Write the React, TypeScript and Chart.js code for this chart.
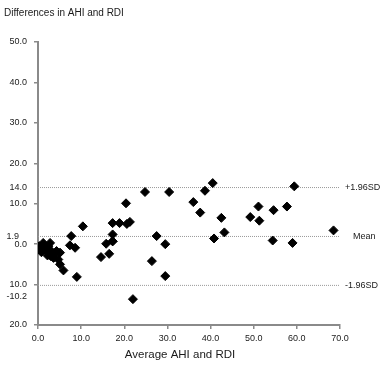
import React, { useEffect, useRef } from "react";
import { Chart, registerables } from "chart.js";

Chart.register(...registerables);

const averages = [
  0.3, 0.5, 1.2, 1.3, 1.6, 2.0, 2.4, 2.8, 3.2, 3.6, 3.9, 4.3, 4.7, 5.1, 5.1, 5.9, 1.0, 2.2, 3.0, 0.8, 2.6,
  7.4, 7.7, 8.6, 9.0, 10.4, 14.6, 15.8, 16.5, 17.3, 17.3, 17.3, 17.3, 18.9, 20.4, 20.6, 21.3, 22.0,
  24.8, 26.4, 27.5, 29.5, 29.5, 30.4, 36.0, 37.6, 38.7, 40.5, 40.8, 42.5, 43.2, 49.2, 51.1, 51.3,
  54.4, 54.6, 57.7, 59.0, 59.4, 68.5,
];
const differences = [
  -0.5, -1.3, 0.3, -0.1, -0.9, -1.7, -0.5, 0.3, -2.1, -3.4, -2.5, -1.7, -3.8, -2.1, -5.0, -6.5, -1.0, -2.8, -3.0, -2.0, -1.2,
  -0.3, 2.0, -0.9, -8.1, 4.4, -3.2, 0.1, -2.4, 0.7, 2.4, 5.2, 0.7, 5.2, 10.1, 5.0, 5.5, -13.6,
  12.9, -4.2, 2.0, 0.0, -7.9, 12.9, 10.4, 7.8, 13.2, 15.1, 1.4, 6.5, 2.9, 6.7, 9.3, 5.8,
  0.9, 8.4, 9.3, 0.3, 14.3, 3.4,
];

const refValues = [14.0, 1.9, -10.2];
const refLeftLabels = ["14.0", "1.9", "-10.2"];
const refRightLabels = ["+1.96SD", "Mean", "-1.96SD"];

const xMin = 0;
const xMax = 70;
const yMin = -20;
const yMax = 50;

const titleText = "Differences in AHI and RDI";
const xTitleText = "Average AHI and RDI";

export default function App() {
  const ref = useRef<HTMLCanvasElement | null>(null);

  useEffect(() => {
    document.body.style.margin = "0";
    const canvas = ref.current;
    if (!canvas) return;

    const textPlugin = {
      id: "texts",
      afterDraw(chart: any) {
        const ctx = chart.ctx;
        const xs = chart.scales.x;
        const ys = chart.scales.y;
        ctx.save();
        ctx.fillStyle = "#1a1a1a";
        ctx.textBaseline = "middle";
        ctx.font = "10px 'Liberation Sans', Arial, sans-serif";
        ctx.textAlign = "left";
        ctx.fillText(titleText, 4, 13);
        ctx.font = "11.5px 'Liberation Sans', Arial, sans-serif";
        ctx.textAlign = "center";
        ctx.fillText(xTitleText, 180, 355);
        ctx.font = "9px 'Liberation Sans', Arial, sans-serif";
        const rightX = xs.getPixelForValue(xMax);
        refValues.forEach((v, i) => {
          const py = ys.getPixelForValue(v);
          ctx.textAlign = "right";
          const lx = i === 1 ? 19 : 27;
          const ly = i === 2 ? py + 11 : py;
          ctx.fillText(refLeftLabels[i], lx, ly);
          ctx.textAlign = "left";
          ctx.fillText(refRightLabels[i], rightX + (i === 1 ? 13 : 5), py);
        });
        ctx.restore();
      },
    };

    const refDatasets = refValues.map((v) => ({
      type: "line" as const,
      data: [
        { x: xMin, y: v },
        { x: xMax, y: v },
      ],
      borderColor: "#9a9a9a",
      borderWidth: 1,
      borderDash: [1, 1],
      pointRadius: 0,
      fill: false,
      order: 2,
    }));

    const chart = new Chart(canvas, {
      type: "scatter",
      data: {
        datasets: [
          {
            data: averages.map((a, i) => ({ x: a, y: differences[i] })),
            pointStyle: "rectRot",
            pointRadius: 4.5,
            pointBackgroundColor: "#000",
            pointBorderColor: "#000",
            pointBorderWidth: 1,
            order: 1,
          } as any,
          ...refDatasets,
        ],
      },
      options: {
        animation: false,
        responsive: true,
        maintainAspectRatio: false,
        layout: { padding: { top: 42, right: 42, left: 0, bottom: 0 } },
        plugins: {
          legend: { display: false },
          tooltip: { enabled: false },
          title: { display: false },
        },
        scales: {
          x: {
            type: "linear",
            min: xMin,
            max: xMax,
            afterFit(scale: any) {
              scale.height = 41;
            },
            border: { color: "#8a8a8a", width: 2 },
            grid: {
              drawOnChartArea: false,
              drawTicks: true,
              tickLength: 4,
              color: "#8a8a8a",
              lineWidth: 1.5,
            },
            ticks: {
              stepSize: 10,
              padding: 4,
              color: "#1a1a1a",
              font: { size: 9, family: "'Liberation Sans', Arial, sans-serif" },
              maxRotation: 0,
              callback: (v: any) => Number(v).toFixed(1),
            },
          },
          y: {
            type: "linear",
            min: yMin,
            max: yMax,
            afterFit(scale: any) {
              scale.width = 38;
            },
            border: { color: "#8a8a8a", width: 2 },
            grid: {
              drawOnChartArea: false,
              drawTicks: true,
              tickLength: 4,
              color: "#8a8a8a",
              lineWidth: 1.5,
            },
            ticks: {
              stepSize: 10,
              padding: 7,
              color: "#1a1a1a",
              font: { size: 9, family: "'Liberation Sans', Arial, sans-serif" },
              callback: (v: any) => Math.abs(Number(v)).toFixed(1),
            },
          },
        },
      } as any,
      plugins: [textPlugin],
    });

    return () => chart.destroy();
  }, []);

  return (
    <div style={{ position: "fixed", left: 0, top: 0, width: 382, height: 366, background: "#fff" }}>
      <canvas ref={ref} />
    </div>
  );
}
